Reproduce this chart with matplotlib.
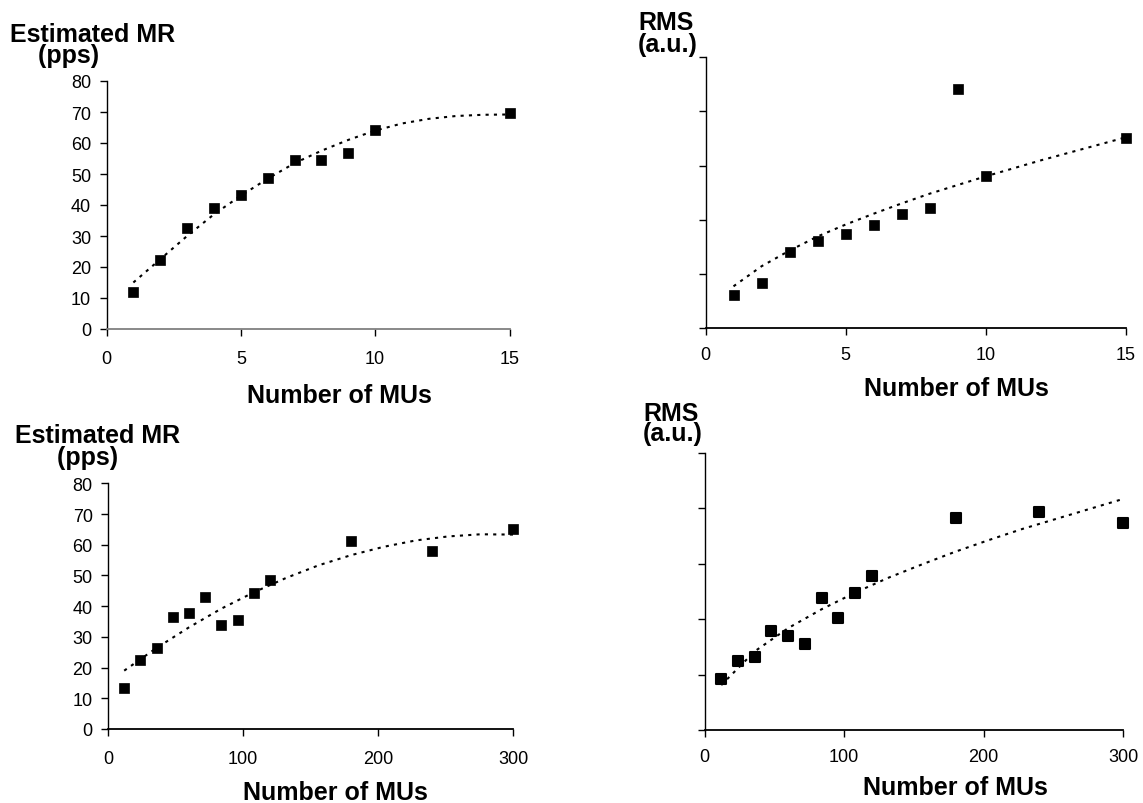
import matplotlib
matplotlib.use("Agg")
import matplotlib.pyplot as plt
from matplotlib.markers import MarkerStyle

plt.rcParams['font.family'] = ['Liberation Sans', 'DejaVu Sans']

# top row: number of MUs 1..15
mu_small = [1, 2, 3, 4, 5, 6, 7, 8, 9, 10, 15]
mr_small = [11.8, 22.3, 32.6, 38.9, 43.2, 48.7, 54.4, 54.4, 56.9, 64.1, 69.7]
rms_small = [0.61, 0.83, 1.41, 1.60, 1.74, 1.91, 2.11, 2.22, 4.41, 2.81, 3.51]

# bottom row: number of MUs 12..300
mu_large = [12, 24, 36, 48, 60, 72, 84, 96, 108, 120, 180, 240, 300]
mr_large = [13.5, 22.6, 26.4, 36.4, 37.9, 43.1, 34.0, 35.5, 44.2, 48.4, 61.3, 58.0, 65.1]
rms_large = [0.92, 1.24, 1.31, 1.78, 1.69, 1.56, 2.38, 2.03, 2.48, 2.78, 3.83, 3.94, 3.73]

# trend lines
trend_x_small = [1, 2, 3, 4, 5, 6, 7, 8, 9, 10, 11, 12, 13, 14, 15]
trend_mr_small = [15.0, 22.5, 30.0, 37.0, 43.0, 48.5, 53.5, 57.5, 61.0, 64.0, 66.3, 67.8, 68.7, 69.1, 69.2]
trend_rms_small = [0.77, 1.14, 1.43, 1.69, 1.91, 2.11, 2.30, 2.48, 2.64, 2.80, 2.95, 3.10, 3.24, 3.38, 3.52]

trend_x_large = [12, 36, 60, 84, 108, 132, 156, 180, 204, 228, 252, 276, 300]
trend_mr_large = [19.0, 26.4, 33.1, 39.2, 44.5, 49.2, 53.3, 56.6, 59.3, 61.4, 62.7, 63.4, 63.3]
trend_rms_large = [0.81, 1.42, 1.84, 2.18, 2.48, 2.75, 2.99, 3.22, 3.43, 3.63, 3.81, 3.99, 4.17]

W, H = 1143, 804
fig = plt.figure(figsize=(W / 100, H / 100), dpi=100)


def px_axes(left, right, top, bottom):
    # pixel box -> figure fraction
    return fig.add_axes([left / W, 1 - bottom / H, (right - left) / W, (bottom - top) / H])


LABEL_FS = 18
TICK_FS = 13
DOTS = (0, (1.5, 2.5))


def style(ax, xmax, xticks, ymax, yticks, show_ylabels, pad, xcolor='black'):
    for s in ['top', 'right']:
        ax.spines[s].set_visible(False)
    ax.spines['left'].set_linewidth(1.0)
    ax.spines['left'].set_color('black')
    ax.spines['bottom'].set_linewidth(1.3)
    ax.spines['bottom'].set_color(xcolor)
    ax.set_xlim(0, xmax)
    ax.set_ylim(0, ymax)
    ax.set_xticks(xticks)
    ax.set_yticks(yticks)
    ax.tick_params(axis='x', direction='out', length=5, width=1, color='black',
                   labelsize=TICK_FS, pad=pad)
    ax.tick_params(axis='y', direction='out', length=5, width=1, labelsize=TICK_FS, pad=6)
    if not show_ylabels:
        ax.set_yticklabels([])


def draw(ax, x, y, tx, ty, rounded=False):
    ax.plot(tx, ty, color='black', lw=1.5, linestyle=DOTS, zorder=2)
    m = MarkerStyle('s', joinstyle='round') if rounded else 's'
    ax.plot(x, y, linestyle='none', marker=m, ms=7.5, color='black',
            mew=1.5 if rounded else 0.5, zorder=3, clip_on=False)


def ylab(x, y, text, spacing):
    # y is the baseline of the second line
    fig.text(x / W, 1 - y / H, text, fontsize=LABEL_FS, fontweight='bold',
             ha='left', va='baseline', multialignment='left', linespacing=spacing)


def xlab(x, y):
    fig.text(x / W, 1 - y / H, 'Number of MUs', fontsize=LABEL_FS, fontweight='bold',
             ha='center', va='baseline')


# top left
ax1 = px_axes(106.5, 509.5, 82, 330)
draw(ax1, mu_small, mr_small, trend_x_small, trend_mr_small)
style(ax1, 15, [0, 5, 10, 15], 80, range(0, 81, 10), True, 10, xcolor='#808080')
ylab(10, 63, 'Estimated MR\n    (pps)', 0.83)
xlab(339, 403)

# top right
ax2 = px_axes(705.5, 1125.5, 58.3, 329)
draw(ax2, mu_small, rms_small, trend_x_small, trend_rms_small)
style(ax2, 15, [0, 5, 10, 15], 5, range(0, 6), False, 8)
ylab(638, 52, 'RMS\n(a.u.)', 0.91)
xlab(956, 396)

# bottom left
ax3 = px_axes(108, 513, 484.3, 730)
draw(ax3, mu_large, mr_large, trend_x_large, trend_mr_large)
style(ax3, 300, [0, 100, 200, 300], 80, range(0, 81, 10), True, 10)
ylab(15, 465, 'Estimated MR\n      (pps)', 0.87)
xlab(335, 800)

# bottom right
ax4 = px_axes(704.5, 1123, 454, 731)
draw(ax4, mu_large, rms_large, trend_x_large, trend_rms_large, rounded=True)
style(ax4, 300, [0, 100, 200, 300], 5, range(0, 6), False, 8)
ylab(643, 441, 'RMS\n(a.u.)', 0.79)
xlab(955, 795)

fig.savefig('out.png', dpi=100)
